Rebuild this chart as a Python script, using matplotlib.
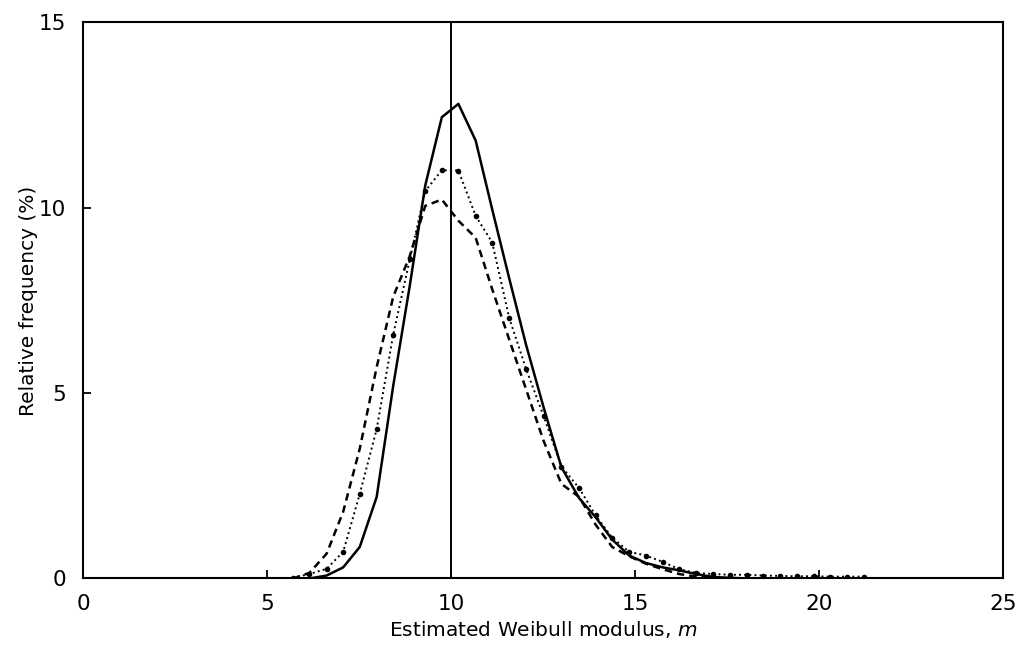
import matplotlib
matplotlib.use("Agg")
import matplotlib.pyplot as plt

# bin positions of the estimated modulus
m = [5.70, 6.15, 6.62, 7.07, 7.52, 7.98, 8.43, 8.88, 9.30, 9.75, 10.20,
     10.67, 11.12, 11.58, 12.04, 12.52, 13.00, 13.48, 13.93, 14.38, 14.84,
     15.29, 15.75, 16.20, 16.66, 17.12, 17.57, 18.03, 18.49, 18.94, 19.40,
     19.86, 20.31, 20.77, 21.23]

freq_solid = [0.0, 0.0, 0.08, 0.30, 0.85, 2.2, 5.2, 7.9, 10.6, 12.44, 12.80,
              11.81, 9.95, 8.1, 6.3, 4.6, 3.0, 2.17, 1.65, 1.05, 0.62,
              0.42, 0.30, 0.22, 0.12, 0.04, 0.02, 0.0, 0.0, 0.0, 0.0,
              0.0, 0.0, 0.0, 0.0]

freq_dotted = [0.02, 0.12, 0.26, 0.72, 2.28, 4.03, 6.58, 8.61, 10.45, 11.01, 11.0,
               9.78, 9.06, 7.03, 5.65, 4.37, 3.02, 2.44, 1.70, 1.10, 0.72,
               0.62, 0.45, 0.25, 0.15, 0.12, 0.10, 0.10, 0.08, 0.07, 0.06,
               0.06, 0.05, 0.05, 0.05]

freq_dashed = [0.0, 0.15, 0.67, 1.8, 3.5, 5.7, 7.6, 8.7, 10.05, 10.22, 9.65,
               9.19, 7.8, 6.45, 5.1, 3.7, 2.55, 2.2, 1.45, 0.85, 0.6,
               0.4, 0.25, 0.12, 0.05, 0.02, 0.0, 0.0, 0.0, 0.0, 0.0,
               0.0, 0.0, 0.0, 0.0]

true_m = 10

fig = plt.figure(figsize=(10.21, 6.46), dpi=100)
ax = fig.add_axes([0.0813, 0.1045, 0.9011, 0.861])

ax.plot(m, freq_solid, '-', color='black', lw=1.8)
ax.plot(m, freq_dotted, ':', color='black', lw=1.4,
        marker='o', markersize=3)
ax.plot(m, freq_dashed, '--', color='black', lw=1.8, dashes=(3, 2))
ax.axvline(true_m, color='black', lw=1.4)

ax.set_xlim(0, 25)
ax.set_ylim(0, 15)
ax.set_xticks([0, 5, 10, 15, 20, 25])
ax.set_yticks([0, 5, 10, 15])
ax.tick_params(direction='in', length=6, width=1.3, labelsize=15.5, top=False, right=False)
ax.tick_params(axis='x', pad=11)
ax.tick_params(axis='y', pad=12)
for s in ax.spines.values():
    s.set_linewidth(1.5)

ax.set_xlabel('Estimated Weibull modulus, $m$', fontsize=14.5, labelpad=4)
ax.set_ylabel('Relative frequency (%)', fontsize=14.5, labelpad=1)

fig.savefig('out.png', dpi=100)
plt.close()
